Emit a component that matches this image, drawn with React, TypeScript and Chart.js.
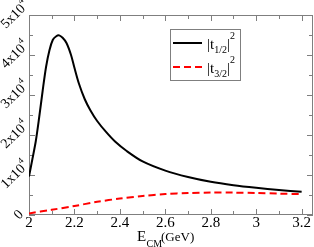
import React, { useEffect, useRef } from "react";
import { Chart, registerables } from "chart.js";

Chart.register(...registerables);

// --- data (x in GeV, y in units of 1) ---
const blackX = [2.0, 2.015, 2.03, 2.045, 2.06, 2.075, 2.09, 2.105, 2.12, 2.133, 2.148, 2.165, 2.185, 2.2, 2.22, 2.245, 2.27, 2.3, 2.34, 2.38, 2.43, 2.5, 2.6, 2.7, 2.8, 2.9, 3.0, 3.1, 3.2];
const blackY = [9600, 14000, 18500, 24500, 31000, 37000, 41200, 43800, 44700, 44900, 44300, 43000, 40000, 36800, 32800, 29000, 26200, 23500, 20700, 18300, 16000, 13400, 11100, 9500, 8300, 7450, 6800, 6250, 5800];
const redX = [2.0, 2.1, 2.2, 2.3, 2.4, 2.5, 2.6, 2.7, 2.8, 2.9, 3.0, 3.1, 3.2];
const redY = [400, 1300, 2250, 3300, 4100, 4750, 5250, 5500, 5600, 5600, 5500, 5350, 5200];

const xMajorTicks = [2, 2.2, 2.4, 2.6, 2.8, 3, 3.2];
const xTickLabels = ["2", "2.2", "2.4", "2.6", "2.8", "3", "3.2"];
const xMinorTicks = [2.1, 2.3, 2.5, 2.7, 2.9, 3.1];
const yMajorTicks = [0, 10000, 20000, 30000, 40000, 50000];
const yTickMantissa = ["0", "1", "2", "3", "4", "5"];
const yMinorTicks = [5000, 15000, 25000, 35000, 45000];

const SERIF = "'Liberation Serif', 'DejaVu Serif', serif";

type Part = { t: string; size: number; dy: number };

function richWidth(ctx: CanvasRenderingContext2D, parts: Part[]) {
  let w = 0;
  for (const p of parts) {
    ctx.font = `${p.size}px ${SERIF}`;
    w += ctx.measureText(p.t).width;
  }
  return w;
}

function drawRich(ctx: CanvasRenderingContext2D, parts: Part[], x: number, y: number) {
  let cx = x;
  ctx.textAlign = "left";
  ctx.textBaseline = "alphabetic";
  for (const p of parts) {
    ctx.font = `${p.size}px ${SERIF}`;
    ctx.fillText(p.t, cx, y + p.dy);
    cx += ctx.measureText(p.t).width;
  }
}

const framePlugin = {
  id: "framePlugin",
  beforeDatasetsDraw(chart: any) {
    const { ctx, chartArea: a, scales } = chart;
    const xs = scales.x;
    const ys = scales.y;
    ctx.save();
    ctx.strokeStyle = "#7f7f7f";
    ctx.lineWidth = 1;
    ctx.strokeRect(a.left + 0.5, a.top + 0.5, a.right - a.left - 1, a.bottom - a.top - 1);
    ctx.beginPath();
    const xt = (vals: number[], len: number) => {
      for (const v of vals) {
        const px = Math.round(xs.getPixelForValue(v)) + 0.5;
        ctx.moveTo(px, a.bottom);
        ctx.lineTo(px, a.bottom - len);
        ctx.moveTo(px, a.top);
        ctx.lineTo(px, a.top + len);
      }
    };
    const yt = (vals: number[], len: number) => {
      for (const v of vals) {
        const py = Math.round(ys.getPixelForValue(v)) + 0.5;
        ctx.moveTo(a.left, py);
        ctx.lineTo(a.left + len, py);
        ctx.moveTo(a.right, py);
        ctx.lineTo(a.right - len, py);
      }
    };
    xt(xMajorTicks, 6);
    xt(xMinorTicks, 4);
    yt(yMajorTicks, 6);
    yt(yMinorTicks, 4);
    ctx.stroke();
    ctx.restore();
  },
  afterDraw(chart: any) {
    const { ctx, chartArea: a, scales } = chart;
    const xs = scales.x;
    const ys = scales.y;
    ctx.save();
    ctx.fillStyle = "#000";
    // x tick labels
    ctx.font = `15px ${SERIF}`;
    ctx.textAlign = "center";
    ctx.textBaseline = "alphabetic";
    xMajorTicks.forEach((v, i) => {
      ctx.fillText(xTickLabels[i], xs.getPixelForValue(v), a.bottom + 12);
    });
    // y tick labels rotated 45 deg
    yMajorTicks.forEach((v, i) => {
      const py = ys.getPixelForValue(v);
      const parts: Part[] =
        yTickMantissa[i] === "0"
          ? [{ t: "0", size: 14, dy: 0 }]
          : [
              { t: yTickMantissa[i] + "x10", size: 14, dy: 0 },
              { t: "4", size: 9, dy: -7 },
            ];
      const w = richWidth(ctx, parts);
      ctx.save();
      const cx = yTickMantissa[i] === "0" ? 18 : 14;
      ctx.translate(cx, py - 1);
      ctx.rotate(-Math.PI / 4);
      drawRich(ctx, parts, -w / 2, 5);
      ctx.restore();
    });
    // x axis title
    drawRich(ctx, [{ t: "E", size: 15, dy: 0 }], 137, 240.5);
    drawRich(ctx, [{ t: "CM", size: 10, dy: 0 }], 146.5, 246.5);
    drawRich(ctx, [{ t: "(GeV)", size: 13, dy: 0 }], 161, 240.5);

    // legend
    ctx.strokeStyle = "#7f7f7f";
    ctx.lineWidth = 1;
    ctx.strokeRect(170.5, 29.5, 70, 51);
    ctx.lineWidth = 2;
    ctx.strokeStyle = "#000";
    ctx.beginPath();
    ctx.moveTo(173, 43);
    ctx.lineTo(202, 43);
    ctx.stroke();
    ctx.strokeStyle = "#ff0000";
    ctx.setLineDash([7, 4]);
    ctx.beginPath();
    ctx.moveTo(173, 67);
    ctx.lineTo(202, 67);
    ctx.stroke();
    ctx.setLineDash([]);
    const row = (sub: string, base: number) => {
      drawRich(
        ctx,
        [
          { t: "|t", size: 15, dy: 0 },
          { t: sub, size: 10, dy: 4 },
          { t: "|", size: 15, dy: 0 },
          { t: "2", size: 10, dy: -10 },
        ],
        207,
        base
      );
    };
    row("1/2", 49);
    row("3/2", 73);
    ctx.restore();
  },
};

export default function App() {
  const ref = useRef<HTMLCanvasElement | null>(null);
  useEffect(() => {
    if (!ref.current) return;
    const chart = new Chart(ref.current, {
      type: "scatter",
      data: {
        datasets: [
          {
            label: "|t1/2|^2",
            data: blackX.map((x, i) => ({ x, y: blackY[i] })),
            showLine: true,
            borderColor: "#000000",
            backgroundColor: "#000000",
            borderWidth: 2,
            pointRadius: 0,
            tension: 0.3,
          },
          {
            label: "|t3/2|^2",
            data: redX.map((x, i) => ({ x, y: redY[i] })),
            showLine: true,
            borderColor: "#ff0000",
            backgroundColor: "#ff0000",
            borderWidth: 2,
            borderDash: [7, 4],
            pointRadius: 0,
            tension: 0.3,
          },
        ],
      },
      options: {
        animation: false,
        responsive: false,
        layout: { padding: { left: 29, right: 1, top: 15, bottom: 32 } },
        plugins: { legend: { display: false }, tooltip: { enabled: false } },
        scales: {
          x: { type: "linear", min: 2, max: 3.25, display: false },
          y: { type: "linear", min: 0, max: 50000, display: false },
        },
      },
      plugins: [framePlugin],
    });
    return () => chart.destroy();
  }, []);
  return (
    <div style={{ position: "fixed", left: 0, top: 0, width: 314, height: 247, background: "#fff" }}>
      <canvas ref={ref} width={314} height={247} style={{ display: "block" }} />
    </div>
  );
}
